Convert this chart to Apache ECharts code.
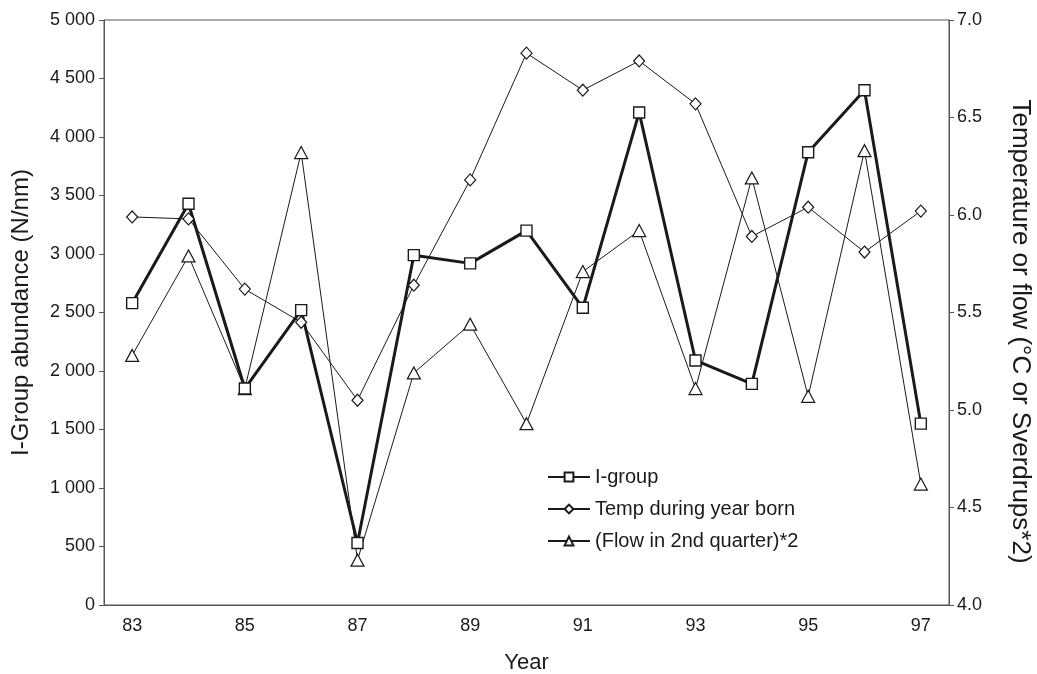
<!DOCTYPE html>
<html>
<head>
<meta charset="utf-8">
<script src="https://cdn.jsdelivr.net/npm/echarts@6/dist/echarts.min.js"></script>
<style>
  html, body { margin: 0; padding: 0; background: #fff; }
  #chart { width: 1037px; height: 674px; }
</style>
</head>
<body>
<div id="chart"></div>
<script>
var years = ['83', '84', '85', '86', '87', '88', '89', '90', '91', '92', '93', '94', '95', '96', '97'];
// left axis, N/nm
var iGroup = [2580, 3430, 1850, 2520, 530, 2990, 2920, 3200, 2540, 4210, 2090, 1890, 3870, 4400, 1550];
// right axis
var tempBorn = [5.99, 5.98, 5.62, 5.45, 5.05, 5.64, 6.18, 6.83, 6.64, 6.79, 6.57, 5.89, 6.04, 5.81, 6.02];
var flow2 = [5.28, 5.79, 5.11, 6.32, 4.23, 5.19, 5.44, 4.93, 5.71, 5.92, 5.11, 6.19, 5.07, 6.33, 4.62];

var ink = '#1a1a1a';
var font = 'Liberation Sans, Arial, sans-serif';

function spaced(v) {
    return String(v).replace(/\B(?=(\d{3})+(?!\d))/g, ' ');
}

var chart = echarts.init(document.getElementById('chart'));
var option = {
    animation: false,
    textStyle: { fontFamily: font, color: ink },
    grid: {
        left: 104, right: 88, top: 20, bottom: 69,
        outerBoundsMode: 'none',
        show: true, borderColor: '#555', borderWidth: 1
    },
    legend: {
        orient: 'vertical',
        left: 542, top: 462,
        itemWidth: 42, itemHeight: 11, itemGap: 12,
        textStyle: { fontSize: 20, color: ink, fontFamily: font },
        data: ['I-group', 'Temp during year born', '(Flow in 2nd quarter)*2']
    },
    xAxis: {
        type: 'category',
        data: years,
        name: 'Year',
        nameLocation: 'middle',
        nameGap: 47,
        nameTextStyle: { fontSize: 22, color: ink },
        axisLine: { lineStyle: { color: '#555' } },
        axisTick: { inside: true, length: 7, interval: 0, lineStyle: { color: '#555' } },
        axisLabel: { interval: 1, fontSize: 18, color: ink, margin: 12 }
    },
    yAxis: [
        {
            type: 'value', min: 0, max: 5000, interval: 500,
            name: 'I-Group abundance (N/nm)',
            nameLocation: 'middle', nameGap: 71,
            nameTextStyle: { fontSize: 24, color: ink },
            axisLine: { show: true, lineStyle: { color: '#555' } },
            axisTick: { show: true, length: 5, lineStyle: { color: '#555' } },
            axisLabel: { fontSize: 18, color: ink, margin: 9, formatter: spaced },
            splitLine: { show: false }
        },
        {
            type: 'value', min: 4, max: 7, interval: 0.5, position: 'right',
            name: 'Temperature or flow (\u00b0C or Sverdrups*2)',
            nameLocation: 'middle', nameGap: 58, nameRotate: -90,
            nameTextStyle: { fontSize: 26, color: ink, padding: [0, 0, 0, 38] },
            axisLine: { show: true, lineStyle: { color: '#555' } },
            axisTick: { show: true, length: 5, lineStyle: { color: '#555' } },
            axisLabel: { fontSize: 18, color: ink, margin: 8, formatter: function (v) { return v.toFixed(1); } },
            splitLine: { show: false }
        }
    ],
    series: [
        {
            name: 'Temp during year born', type: 'line', yAxisIndex: 1, data: tempBorn,
            symbol: 'diamond', symbolSize: [11, 12],
            lineStyle: { color: ink, width: 1 },
            itemStyle: { color: '#fff', borderColor: ink, borderWidth: 1.2 }
        },
        {
            name: '(Flow in 2nd quarter)*2', type: 'line', yAxisIndex: 1, data: flow2,
            symbol: 'triangle', symbolSize: [13, 12],
            lineStyle: { color: ink, width: 1 },
            itemStyle: { color: '#fff', borderColor: ink, borderWidth: 1.2 }
        },
        {
            name: 'I-group', type: 'line', yAxisIndex: 0, data: iGroup,
            symbol: 'rect', symbolSize: 11,
            lineStyle: { color: ink, width: 3 },
            itemStyle: { color: '#fff', borderColor: ink, borderWidth: 1.4 }
        }
    ]
};
chart.setOption(option);
</script>
</body>
</html>
